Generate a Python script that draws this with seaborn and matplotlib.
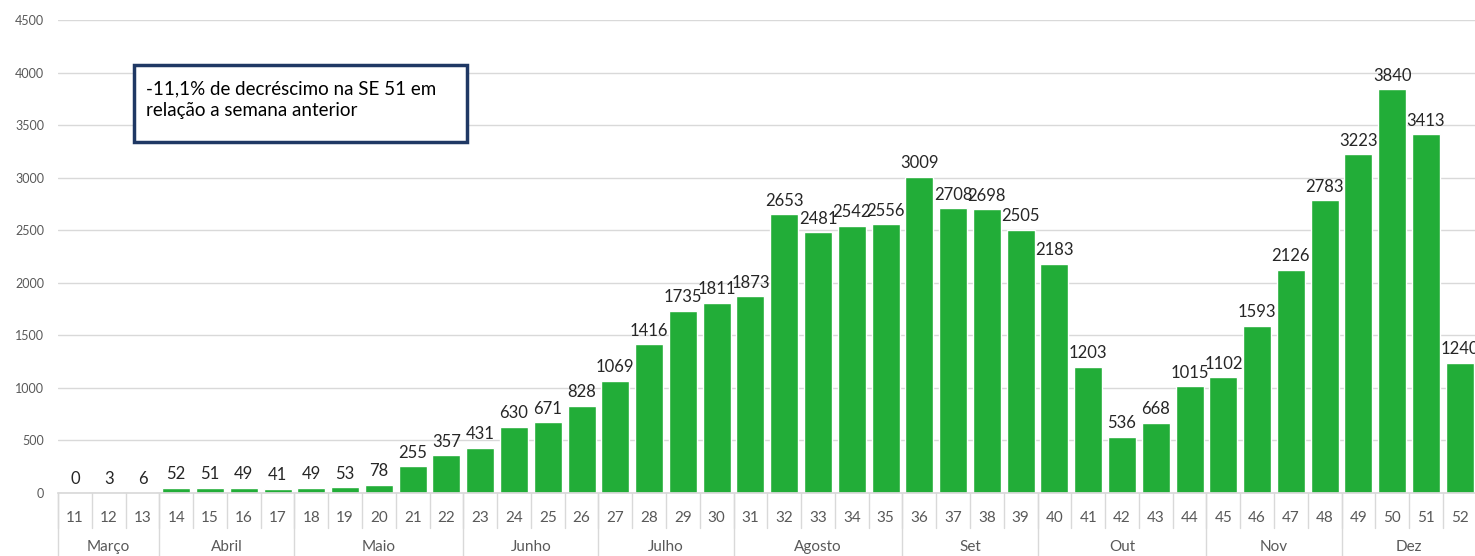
import numpy as np
import pandas as pd
import matplotlib
matplotlib.use('Agg')
import matplotlib.pyplot as plt
import matplotlib.transforms as mtransforms
from matplotlib.patches import Rectangle
import seaborn as sns

# dados: casos por semana epidemiológica
semanas = [str(s) for s in range(11, 53)]
casos = [0, 3, 6, 52, 51, 49, 41, 49, 53, 78, 255, 357, 431, 630, 671, 828,
         1069, 1416, 1735, 1811, 1873, 2653, 2481, 2542, 2556, 3009, 2708,
         2698, 2505, 2183, 1203, 536, 668, 1015, 1102, 1593, 2126, 2783,
         3223, 3840, 3413, 1240]
meses = ['Março', 'Abril', 'Maio', 'Junho', 'Julho', 'Agosto', 'Set',
         'Out', 'Nov', 'Dez']
semanas_por_mes = [3, 4, 5, 4, 4, 5, 4, 5, 4, 4]
nota = '-11,1% de decréscimo na SE 51 em\nrelação a semana anterior'

df = pd.DataFrame({'semana': semanas, 'casos': casos})

sns.set_theme(style='white')
plt.rcParams['font.family'] = ['Lato', 'DejaVu Sans']

fig = plt.figure(figsize=(14.75, 5.56), dpi=100)
ax = fig.add_axes([58 / 1475, 1 - 493 / 556, 1 - 58 / 1475, (493 - 20) / 556])

sns.barplot(data=df, x='semana', y='casos', order=semanas, color='#22ad38',
            saturation=1, width=0.83, ax=ax, zorder=2)

ax.set_ylim(0, 4500)
ax.set_xlim(-0.5, 41.45)
ax.set_yticks(np.arange(0, 4501, 500))
ax.yaxis.grid(True, color='#d9d9d9', linewidth=1, zorder=0)
ax.set_axisbelow(True)
for s in ['top', 'right', 'left']:
    ax.spines[s].set_visible(False)
ax.spines['bottom'].set_color('#d9d9d9')
ax.tick_params(axis='y', length=0, labelsize=9, labelcolor='#595959', pad=10)
ax.set_xlabel('')
ax.set_ylabel('')

# rótulos de valor
for i, v in enumerate(casos):
    ax.annotate(str(v), (i, v), xytext=(0, 4), textcoords='offset points',
                ha='center', va='bottom', fontsize=12, color='#262626')

# eixo x em dois níveis: semanas e meses
ax.set_xticks([])
trans = mtransforms.blended_transform_factory(ax.transData, ax.transAxes)
for i, s in enumerate(semanas):
    ax.text(i, -0.053, s, transform=trans, ha='center', va='center',
            fontsize=11, color='#595959')
    ax.plot([i - 0.5, i - 0.5], [0, -0.073], transform=trans, clip_on=False,
            color='#d9d9d9', linewidth=1)

inicio = 0
for mes, n in zip(meses, semanas_por_mes):
    ax.plot([inicio - 0.5, inicio - 0.5], [0, -0.14], transform=trans,
            clip_on=False, color='#d9d9d9', linewidth=1)
    ax.text(inicio + (n - 1) / 2, -0.114, mes, transform=trans, ha='center',
            va='center', fontsize=11, color='#595959')
    inicio += n

# caixa de destaque
caixa = Rectangle((134 / 1475, 1 - 142 / 556), (467 - 134) / 1475,
                  (142 - 65) / 556, transform=fig.transFigure,
                  facecolor='white', edgecolor='#1f3864', linewidth=2.5,
                  zorder=5)
fig.patches.append(caixa)
fig.text(146 / 1475, 1 - 100 / 556, nota, ha='left', va='center',
         fontsize=13.5, color='black', linespacing=1.35, zorder=6)

fig.savefig('out.png', dpi=100)
